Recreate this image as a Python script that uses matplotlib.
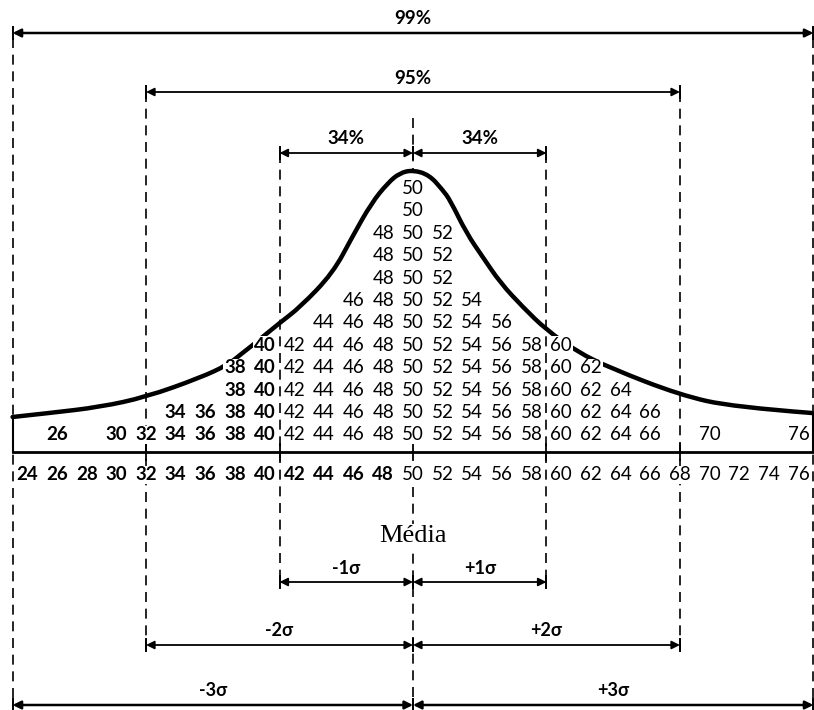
import matplotlib.pyplot as plt
from matplotlib.path import Path
from matplotlib.patches import PathPatch

# scores and how often each one occurs (the stacked columns)
values = [26, 30, 32, 34, 36, 38, 40, 42, 44, 46, 48, 50, 52, 54, 56, 58, 60, 62, 64, 66, 70, 76]
counts = [1, 1, 1, 2, 2, 4, 5, 5, 6, 7, 10, 12, 10, 7, 6, 5, 5, 4, 3, 2, 1, 1]

# scale printed under the base line
scale_labels = [24, 26, 28, 30, 32, 34, 36, 38, 40, 42, 44, 46, 48, 50,
                52, 54, 56, 58, 60, 62, 64, 66, 68, 70, 72, 74, 76]

mean = 50
sigma = 9

# hand drawn curve (score, height from top in px)
curve_x = [23.0, 25.5, 28.9, 32.0, 35.6, 37.5, 38.5, 39.2, 41.0, 42.4, 44.6, 45.9,
           47.2, 48.3, 49.1, 50.0, 51.1, 52.0, 52.5, 53.6, 54.7, 55.9, 57.4, 59.0,
           61.1, 63.3, 68.0, 71.6, 76.9]
curve_y = [417, 413, 407, 397, 378, 365, 353, 345, 323, 307, 273, 237,
           203, 183, 173, 170, 175, 190, 200, 233, 257, 283, 307, 330,
           352, 368, 395, 407, 413]

# percentage bands above, sigma bands below
top_lo = [23, 32, 41, 50]
top_hi = [77, 68, 50, 59]
top_labels = ['99%', '95%', '34%', '34%']
sig_lo = [41, 50, 32, 50, 23, 50]
sig_hi = [50, 59, 50, 68, 50, 77]
sig_labels = ['-1σ', '+1σ', '-2σ', '+2σ', '-3σ', '+3σ']

# layout (y in pixels from top)
top_y = [33, 92, 153, 153]
sig_y = [582, 582, 645, 645, 705, 705]
row_y0 = 435
row_step = 22.4
axis_y = 452
label_y = 475

font = 'Lato'
fig = plt.figure(figsize=(8.14, 7.10), dpi=100)
ax = fig.add_axes([0, 0, 1, 1])
ax.set_xlim(50 - 413 / 14.83, 50 + 401 / 14.83)
ax.set_ylim(710, 0)
ax.axis('off')

dash = dict(color='black', lw=1.2, dashes=(6, 4), zorder=1)

# vertical dashed guides
ax.plot([mean - 3 * sigma] * 2, [38, 706], **dash)
ax.plot([mean + 3 * sigma] * 2, [38, 706], **dash)
ax.plot([mean - 2 * sigma] * 2, [92, 650], **dash)
ax.plot([mean + 2 * sigma] * 2, [92, 650], **dash)
ax.plot([mean - sigma] * 2, [153, 586], **dash)
ax.plot([mean + sigma] * 2, [153, 586], **dash)
ax.plot([mean] * 2, [118, 170], **dash)
ax.plot([mean] * 2, [487, 710], **dash)

# box edges and base line
ax.plot([23, 23], [417, axis_y], color='black', lw=1.5)
ax.plot([77, 77], [413, axis_y], color='black', lw=1.5)
ax.plot([23, 77], [axis_y, axis_y], color='black', lw=2.0)
for t in [32, 41, 50, 59, 68]:
    ax.plot([t, t], [444, 460], color='black', lw=1.3)

# curve: quadratic pieces through the midpoints so the pen line looks smooth
pts = list(zip(curve_x, curve_y))
verts = [pts[0]]
codes = [Path.MOVETO]
for i in range(1, len(pts) - 1):
    mid = ((pts[i][0] + pts[i + 1][0]) / 2, (pts[i][1] + pts[i + 1][1]) / 2)
    verts += [pts[i], mid if i < len(pts) - 2 else pts[-1]]
    codes += [Path.CURVE3, Path.CURVE3]
ax.add_patch(PathPatch(Path(verts, codes), facecolor='none', edgecolor='black',
                       lw=3.2, capstyle='round', joinstyle='round', zorder=2))

# stacked numbers
for v, c in zip(values, counts):
    for k in range(c):
        ax.text(v, row_y0 - k * row_step, str(v), ha='center', va='center',
                fontsize=13.5, family=font,
                fontweight='bold' if v <= 40 else 'normal', zorder=4,
                bbox=dict(facecolor='white', edgecolor='none', pad=0.5))

# scale under the base line
for v in scale_labels:
    ax.text(v, label_y, str(v), ha='center', va='center', fontsize=13.5,
            family=font, fontweight='bold' if v <= 48 else 'normal', zorder=4,
            bbox=dict(facecolor='white', edgecolor='none', pad=0.5))


def band(lo, hi, y, lw):
    ax.annotate('', xy=(hi, y), xytext=(lo, y),
                arrowprops=dict(arrowstyle='<|-|>', color='black', lw=lw,
                                shrinkA=0, shrinkB=0, mutation_scale=12),
                zorder=3)
    for e in (lo, hi):
        ax.plot([e, e], [y - 6, y + 6], color='black', lw=1.4, zorder=3)


for lo, hi, y, lab in zip(top_lo, top_hi, top_y, top_labels):
    band(lo, hi, y, 1.8 if lab == '99%' else 1.3)
    ax.text((lo + hi) / 2, y - 14, lab, ha='center', va='center',
            fontsize=13.5, family=font, fontweight='bold')

for lo, hi, y, lab in zip(sig_lo, sig_hi, sig_y, sig_labels):
    band(lo, hi, y, 1.8 if '3' in lab else 1.3)
    ax.text((lo + hi) / 2, y - 14, lab, ha='center', va='center',
            fontsize=13, family=font, fontweight='bold')

ax.text(mean, 536, 'Média', ha='center', va='center', fontsize=19,
        family='Liberation Serif', zorder=4,
        bbox=dict(facecolor='white', edgecolor='none', pad=0.5))

plt.savefig('out.png', dpi=100)
